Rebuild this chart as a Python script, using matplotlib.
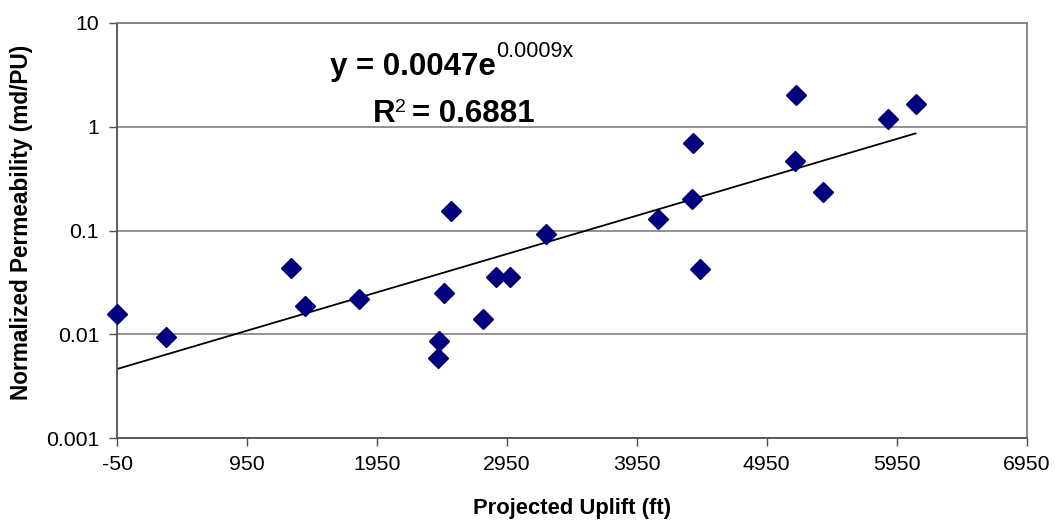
#!/usr/bin/env python3
"""Normalized permeability vs projected uplift, with exponential trendline."""

import matplotlib

matplotlib.use("Agg")
import matplotlib.pyplot as plt
import numpy as np

plt.rcParams["font.family"] = ["Liberation Sans", "DejaVu Sans"]
plt.rcParams["axes.unicode_minus"] = False

# values
UPLIFT_FT = [-50, 327, 1288, 1396, 1812, 2419, 2427, 2465, 2519, 2765, 2865,
             2973, 3250, 4114, 4383, 4375, 4437, 5178, 5165, 5385, 5883, 6096]
PERM = [0.0157, 0.0094, 0.0436, 0.0188, 0.0219, 0.0059, 0.0086, 0.025, 0.154,
        0.0141, 0.0357, 0.0357, 0.093, 0.128, 0.70, 0.20, 0.0426, 2.03, 0.467,
        0.233, 1.20, 1.64]

X_TICKS = [-50, 950, 1950, 2950, 3950, 4950, 5950, 6950]
Y_TICKS = [0.001, 0.01, 0.1, 1, 10]
Y_TICK_LABELS = ["0.001", "0.01", "0.1", "1", "10"]

GREY = "#808080"
DARK = "#505050"


def main() -> None:
    x = np.array(UPLIFT_FT, dtype=float)
    y = np.array(PERM, dtype=float)

    # Excel-style exponential trendline: least squares on ln(y)
    b, ln_a = np.polyfit(x, np.log(y), 1)
    xs = np.linspace(x.min(), x.max(), 200)
    ys = np.exp(ln_a) * np.exp(b * xs)

    fig = plt.figure(figsize=(10.55, 5.21), dpi=100)
    ax = fig.add_axes([0.111, 0.159, 0.862, 0.797])

    ax.plot(xs, ys, color="black", linewidth=1.3, zorder=2)
    ax.plot(x, y, linestyle="none", marker="D", markersize=10.5,
            color="#000080", markeredgecolor="#00006a", zorder=3,
            clip_on=False)

    ax.set_yscale("log")
    ax.set_xlim(-50, 6950)
    ax.set_ylim(0.001, 10)
    ax.set_xticks(X_TICKS)
    ax.set_yticks(Y_TICKS)
    ax.set_yticklabels(Y_TICK_LABELS)
    ax.yaxis.set_minor_locator(matplotlib.ticker.NullLocator())

    ax.tick_params(axis="both", labelsize=15.3, length=6, width=1,
                   color=DARK, direction="out")
    ax.tick_params(axis="x", pad=6)
    ax.tick_params(axis="y", pad=7)
    ax.grid(True, axis="y", color=GREY, linewidth=1.2)
    for side, spine in ax.spines.items():
        spine.set_color(DARK if side in ("left", "bottom") else GREY)
        spine.set_linewidth(1.3)

    ax.set_xlabel("Projected Uplift (ft)", fontsize=15.8, fontweight="bold")
    ax.set_ylabel("Normalized Permeability (md/PU)", fontsize=16.3,
                  fontweight="bold")
    ax.xaxis.set_label_coords(0.5, -0.144)
    ax.yaxis.set_label_coords(-0.092, 0.519)

    # trendline equation, built from pieces so the superscripts sit right
    t_eq = ax.text(0.234, 0.874, "y = 0.0047e", transform=ax.transAxes,
                   fontsize=22.5, fontweight="bold", ha="left", va="baseline")
    ax.annotate("0.0009x", xy=(1, 0.874), xycoords=(t_eq, "axes fraction"),
                xytext=(0.5, 13), textcoords="offset points", fontsize=15.5,
                ha="left", va="baseline")
    t_r = ax.text(0.281, 0.761, "R", transform=ax.transAxes, fontsize=22.5,
                  fontweight="bold", ha="left", va="baseline")
    t_two = ax.annotate("2", xy=(1, 0.761), xycoords=(t_r, "axes fraction"),
                        xytext=(0, 7.5), textcoords="offset points",
                        fontsize=14, ha="left", va="baseline")
    ax.annotate("= 0.6881", xy=(1, 0.761), xycoords=(t_two, "axes fraction"),
                xytext=(4, 0), textcoords="offset points", fontsize=22.5,
                fontweight="bold", ha="left", va="baseline")

    fig.savefig("out.png", dpi=100)
    plt.close(fig)


if __name__ == "__main__":
    main()
